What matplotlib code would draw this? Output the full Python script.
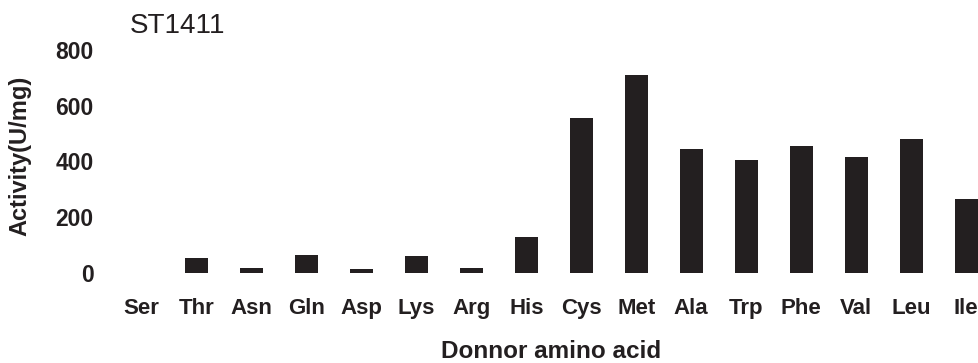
import matplotlib
matplotlib.use("Agg")
import matplotlib.pyplot as plt
import numpy as np

categories = ["Ser", "Thr", "Asn", "Gln", "Asp", "Lys", "Arg", "His",
              "Cys", "Met", "Ala", "Trp", "Phe", "Val", "Leu", "Ile"]
activity = [0, 55, 19, 64, 15, 61, 19, 129, 556, 710, 445, 405, 456, 416, 481, 265]
yticks = [0, 200, 400, 600, 800]

color = "#231f20"
plt.rcParams['font.family'] = ['Liberation Sans', 'DejaVu Sans']

fig = plt.figure(figsize=(9.79, 3.63), dpi=100)
ax = fig.add_axes([0.1, 0.2479, 0.9, 0.6144])
x = np.arange(len(categories))
ax.bar(x, activity, width=0.42, color=color)
ax.set_xlim(-0.793, 15.235)
ax.set_ylim(0, 800)
ax.set_xticks(x)
ax.set_xticklabels(categories, fontsize=16, fontweight='bold', color=color)
ax.set_yticks(yticks)
ax.set_yticklabels([str(v) for v in yticks], fontsize=16.5, fontweight='bold', color=color)
ax.tick_params(axis='x', length=0, pad=18)
ax.tick_params(axis='y', length=0, pad=3)
for s in ax.spines.values():
    s.set_visible(False)

fig.text(130/979, 1-26/363, "ST1411", fontsize=20, color=color, ha='left', va='center')
fig.text(551/979, 1-352/363, "Donnor amino acid", fontsize=17.5, fontweight='bold',
         color=color, ha='center', va='center')
fig.text(20/979, 1-156/363, "Activity(U/mg)", fontsize=17, fontweight='bold',
         color=color, ha='center', va='center', rotation=90)

fig.savefig("out.png", dpi=100)
